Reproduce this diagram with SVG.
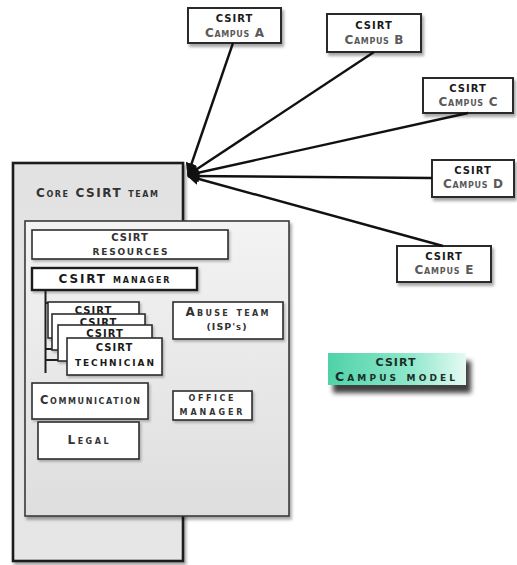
<svg xmlns="http://www.w3.org/2000/svg" width="517" height="565" viewBox="0 0 517 565">
  <defs>
    <filter id="shadow" x="-10%" y="-10%" width="130%" height="130%">
      <feDropShadow dx="2" dy="3" stdDeviation="1.8" flood-color="#000" flood-opacity="0.35"/>
    </filter>
    <filter id="softShadow" x="-10%" y="-10%" width="130%" height="130%">
      <feDropShadow dx="1.5" dy="2" stdDeviation="1.2" flood-color="#000" flood-opacity="0.25"/>
    </filter>
    <filter id="heavyShadow" x="-10%" y="-20%" width="130%" height="160%">
      <feDropShadow dx="5" dy="8" stdDeviation="2.5" flood-color="#000" flood-opacity="0.75"/>
    </filter>
    <linearGradient id="outerFill" x1="0" y1="0" x2="0" y2="1">
      <stop offset="0" stop-color="#e2e2e2"/>
      <stop offset="1" stop-color="#e6e6e6"/>
    </linearGradient>
    <linearGradient id="innerFill" x1="0" y1="0" x2="0" y2="1">
      <stop offset="0" stop-color="#f3f3f3"/>
      <stop offset="1" stop-color="#dedede"/>
    </linearGradient>
    <linearGradient id="tealFill" x1="0" y1="0" x2="1" y2="0">
      <stop offset="0" stop-color="#4fd2a8"/>
      <stop offset="0.6" stop-color="#8fe8cc"/>
      <stop offset="1" stop-color="#e6faf3"/>
    </linearGradient>
    <marker id="arrow" viewBox="0 0 10 10" refX="9" refY="5" markerWidth="5" markerHeight="5" orient="auto" markerUnits="strokeWidth">
      <path d="M0,0 L10,5 L0,10 Z" fill="#111"/>
    </marker>
  </defs>
  <style>
    text { font-family: "DejaVu Sans", "Liberation Sans", sans-serif; font-weight: bold; font-variant: small-caps; text-anchor: middle; }
    .t { font-size: 10px; fill: #1a1a1a; letter-spacing: 1px; }
    .sc { font-size: 12px; fill: #2a2a2a; }
    .sub { font-size: 12px; fill: #5a5a5a; }
    .box { fill: #ffffff; stroke: #2e2e2e; stroke-width: 1.6; }
    .campus { fill: #ffffff; stroke: #2a2a2a; stroke-width: 2; }
    .link { stroke: #111; stroke-width: 2.4; fill: none; marker-end: url(#arrow); }
  </style>

  <!-- Core team container -->
  <g id="core-team">
    <rect x="13" y="163" width="170" height="398" fill="url(#outerFill)" stroke="#1c1c1c" stroke-width="2.6" filter="url(#shadow)"/>
    <text x="36" y="197" class="sc" style="text-anchor:start;fill:#333" textLength="122">Core CSIRT team</text>
  </g>

  <!-- Inner organisation panel -->
  <g id="org-panel">
    <rect x="25" y="221" width="264" height="295" fill="url(#innerFill)" stroke="#3a3a3a" stroke-width="1.6" filter="url(#shadow)"/>
  </g>

  <g id="resources">
    <rect x="32" y="230" width="196" height="29" class="box" filter="url(#softShadow)"/>
    <text x="130" y="241" class="t" style="fill:#333">CSIRT</text>
    <text x="130" y="255" class="sc" style="font-size:13px;fill:#333" textLength="75">resources</text>
  </g>

  <g id="manager">
    <rect x="32" y="268" width="165" height="22" fill="#fff" stroke="#1e1e1e" stroke-width="2.4" filter="url(#softShadow)"/>
    <text x="114" y="283" class="sc" style="fill:#1a1a1a" textLength="111">CSIRT manager</text>
  </g>

  <!-- Reporting lines from the manager to the technicians -->
  <g id="tree" stroke="#1e1e1e" stroke-width="2" fill="none">
    <line x1="45.5" y1="290" x2="45.5" y2="373"/>
    <line x1="45.5" y1="303" x2="48" y2="303"/>
    <line x1="45.5" y1="349" x2="52" y2="349"/>
    <line x1="45.5" y1="360" x2="58" y2="360"/>
  </g>

  <g id="technician-1">
    <rect x="48" y="302" width="91" height="36" class="box" filter="url(#softShadow)"/>
    <text x="93.5" y="314" class="t">CSIRT</text>
  </g>
  <g id="technician-2">
    <rect x="52" y="314" width="93" height="36" class="box" filter="url(#softShadow)"/>
    <text x="98.5" y="326" class="t">CSIRT</text>
  </g>
  <g id="technician-3">
    <rect x="58" y="325" width="94" height="36" class="box" filter="url(#softShadow)"/>
    <text x="105" y="337" class="t">CSIRT</text>
  </g>
  <g id="technician-4">
    <rect x="67" y="338" width="95" height="37" class="box" filter="url(#softShadow)"/>
    <text x="114.5" y="351" class="t">CSIRT</text>
    <text x="114.5" y="366" class="sc" style="font-size:12.5px;fill:#1a1a1a" textLength="79">technician</text>
  </g>

  <g id="abuse-team">
    <rect x="173" y="302" width="110" height="37" class="box" filter="url(#softShadow)"/>
    <text x="227" y="316" class="sc" style="fill:#333" textLength="83">Abuse team</text>
    <text x="227" y="330" class="t" style="font-size:9.5px;fill:#333">(ISP's)</text>
  </g>

  <g id="communication">
    <rect x="32" y="383" width="116" height="36" class="box" filter="url(#softShadow)"/>
    <text x="90" y="404" class="sc" style="font-size:11.5px;fill:#333" textLength="100">Communication</text>
  </g>

  <g id="legal">
    <rect x="38" y="422" width="101" height="37" class="box" filter="url(#softShadow)"/>
    <text x="88" y="444" class="sc" style="fill:#333" textLength="41">Legal</text>
  </g>

  <g id="office-manager">
    <rect x="173" y="391" width="79" height="29" class="box" filter="url(#softShadow)"/>
    <text x="211" y="401" class="sc" style="font-size:11.5px;fill:#333" textLength="45">office</text>
    <text x="211" y="415" class="sc" style="font-size:11.5px;fill:#333" textLength="63">manager</text>
  </g>

  <!-- Campus teams -->
  <g id="campus-a">
    <rect x="188" y="8" width="93" height="35" class="campus" filter="url(#shadow)"/>
    <text x="234.5" y="22" class="t">CSIRT</text>
    <text x="234.5" y="37" class="sub" textLength="59">Campus A</text>
  </g>
  <g id="campus-b">
    <rect x="327" y="14" width="94" height="38" class="campus" filter="url(#shadow)"/>
    <text x="374" y="29" class="t">CSIRT</text>
    <text x="374" y="44" class="sub" textLength="59">Campus B</text>
  </g>
  <g id="campus-c">
    <rect x="423" y="78" width="90" height="35" class="campus" filter="url(#shadow)"/>
    <text x="468" y="92" class="t">CSIRT</text>
    <text x="468" y="106" class="sub" textLength="59">Campus C</text>
  </g>
  <g id="campus-d">
    <rect x="432" y="160" width="82" height="37" class="campus" filter="url(#shadow)"/>
    <text x="473" y="174" class="t">CSIRT</text>
    <text x="473" y="188" class="sub" textLength="60">Campus D</text>
  </g>
  <g id="campus-e">
    <rect x="397" y="246" width="94" height="36" class="campus" filter="url(#shadow)"/>
    <text x="444" y="260" class="t">CSIRT</text>
    <text x="444" y="274" class="sub" textLength="59">Campus E</text>
  </g>

  <!-- Model label -->
  <g id="campus-model">
    <rect x="328" y="353" width="138" height="32" fill="url(#tealFill)" filter="url(#heavyShadow)"/>
    <text x="396" y="366" class="t" style="font-size:11px;fill:#1b2f27">CSIRT</text>
    <text x="395" y="381" class="sc" style="font-size:12.5px;fill:#1b2f27" textLength="120">Campus model</text>
  </g>

  <!-- Connectors from each campus into the core team -->
  <g id="connectors">
    <line class="link" x1="233" y1="43" x2="188" y2="174"/>
    <line class="link" x1="374" y1="52" x2="188" y2="175"/>
    <line class="link" x1="468" y1="113" x2="188" y2="175"/>
    <line class="link" x1="432" y1="178" x2="188" y2="176"/>
    <line class="link" x1="443" y1="246" x2="188" y2="176"/>
  </g>
</svg>
